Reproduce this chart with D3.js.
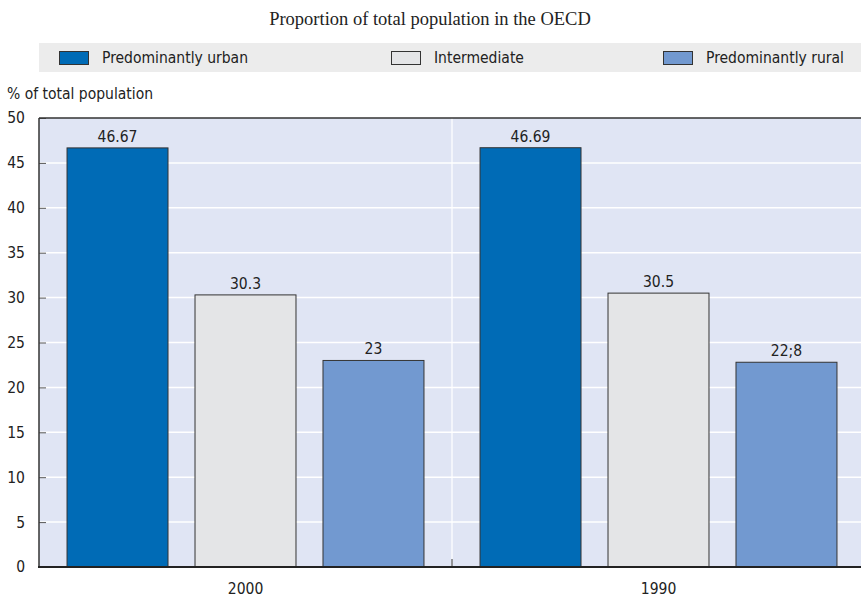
<!DOCTYPE html>
<html>
<head>
<meta charset="utf-8">
<script src="https://cdn.jsdelivr.net/npm/d3@7"></script>
<style>
  html, body { margin: 0; padding: 0; background: #ffffff; }
  svg { display: block; }
  .narrow { font-family: "Liberation Sans Narrow", "Arial Narrow", "DejaVu Sans Condensed", sans-serif; }
</style>
</head>
<body>
<svg id="chart" width="861" height="600"></svg>
<script>
// Share of OECD population by regional type
const years = ["2000", "1990"];
const seriesNames = ["Predominantly urban", "Intermediate", "Predominantly rural"];
const urban = [46.67, 46.69];
const intermediate = [30.3, 30.5];
const rural = [23, 22.8];
const valueLabels = [["46.67", "30.3", "23"], ["46.69", "30.5", "22;8"]];
const yTicks = [0, 5, 10, 15, 20, 25, 30, 35, 40, 45, 50];
const colors = ["#006bb6", "#e4e5e7", "#7299d0"];

const seriesValues = [urban, intermediate, rural];

const svg = d3.select("#chart");
const plotLeft = 39, plotRight = 865, plotTop = 118, plotBottom = 567;

const x0 = d3.scaleBand().domain(years).range([plotLeft, plotRight]).padding(0);
const x1 = d3.scaleBand().domain(seriesNames).range([0, x0.bandwidth()])
  .paddingInner(0.211).paddingOuter(0.219);
const y = d3.scaleLinear().domain([0, 50]).range([plotBottom, plotTop]);

// Title
svg.append("text")
  .attr("x", 430).attr("y", 25)
  .attr("text-anchor", "middle")
  .attr("font-family", "'Liberation Serif', 'DejaVu Serif', serif")
  .attr("font-size", 18.5)
  .attr("fill", "#222")
  .text("Proportion of total population in the OECD");

// Legend band
svg.append("rect").attr("x", 39).attr("y", 43).attr("width", 822).attr("height", 29)
  .attr("fill", "#ececec");
const legendPos = [59, 391, 663];
seriesNames.forEach((name, i) => {
  svg.append("rect").attr("x", legendPos[i] + 0.5).attr("y", 51.5)
    .attr("width", 29).attr("height", 13)
    .attr("fill", colors[i]).attr("stroke", "#333").attr("stroke-width", 1);
  svg.append("text").attr("class", "narrow")
    .attr("x", legendPos[i] + 43).attr("y", 63)
    .attr("font-size", 15.5).attr("fill", "#222").text(name);
});

// Axis caption
svg.append("text").attr("class", "narrow")
  .attr("x", 7).attr("y", 99).attr("font-size", 15.5).attr("fill", "#222")
  .text("% of total population");

// Plot background
svg.append("rect").attr("x", plotLeft).attr("y", plotTop)
  .attr("width", plotRight - plotLeft).attr("height", plotBottom - plotTop).attr("fill", "#e0e5f4");

// Horizontal grid
svg.append("g").selectAll("line").data(yTicks.filter(t => t > 0 && t < 50)).join("line")
  .attr("x1", plotLeft).attr("x2", plotRight)
  .attr("y1", d => y(d)).attr("y2", d => y(d))
  .attr("stroke", "#ffffff").attr("stroke-width", 1.5);

// Vertical separator between years
const sepX = x0("1990");
svg.append("line").attr("x1", sepX).attr("x2", sepX).attr("y1", plotTop).attr("y2", plotBottom)
  .attr("stroke", "#ffffff").attr("stroke-width", 1.2);
svg.append("line").attr("x1", sepX).attr("x2", sepX).attr("y1", plotBottom - 8).attr("y2", plotBottom)
  .attr("stroke", "#333").attr("stroke-width", 1);

// Y axis with inward ticks
const yAxis = d3.axisLeft(y).tickValues(yTicks).tickSize(-7).tickPadding(14);
const gy = svg.append("g").attr("transform", `translate(${plotLeft},0)`).call(yAxis);
gy.select(".domain").remove();
gy.selectAll(".tick line").attr("stroke", "#555").attr("stroke-width", 1);
gy.selectAll(".tick text").attr("class", "narrow").attr("font-size", 15.5).attr("fill", "#222");
gy.attr("font-family", null).attr("font-size", null);

// Bars
const groups = svg.append("g").selectAll("g").data(years).join("g")
  .attr("transform", d => `translate(${x0(d)},0)`);
groups.each(function(year, yi) {
  const g = d3.select(this);
  seriesNames.forEach((name, si) => {
    const v = seriesValues[si][yi];
    g.append("rect")
      .attr("x", x1(name)).attr("y", y(v))
      .attr("width", x1.bandwidth()).attr("height", y(0) - y(v))
      .attr("fill", colors[si]).attr("stroke", "#333").attr("stroke-width", 1);
    g.append("text").attr("class", "narrow")
      .attr("x", x1(name) + x1.bandwidth() / 2).attr("y", y(v) - 6)
      .attr("text-anchor", "middle").attr("font-size", 15.5).attr("fill", "#222")
      .text(valueLabels[yi][si]);
  });
});

// Frame: top, left and bottom axis lines
svg.append("line").attr("x1", plotLeft).attr("x2", plotRight).attr("y1", plotTop).attr("y2", plotTop)
  .attr("stroke", "#333").attr("stroke-width", 1.5);
svg.append("line").attr("x1", plotLeft).attr("x2", plotLeft).attr("y1", plotTop).attr("y2", plotBottom)
  .attr("stroke", "#333").attr("stroke-width", 1.5);
svg.append("line").attr("x1", plotLeft - 1).attr("x2", plotRight).attr("y1", plotBottom).attr("y2", plotBottom)
  .attr("stroke", "#222").attr("stroke-width", 2);

// Category labels
const xAxis = d3.axisBottom(x0).tickSize(0).tickPadding(16);
const gx = svg.append("g").attr("transform", `translate(0,${plotBottom})`).call(xAxis);
gx.select(".domain").remove();
gx.selectAll(".tick text").attr("class", "narrow").attr("font-size", 15.5).attr("fill", "#222");
gx.attr("font-family", null).attr("font-size", null);
</script>
</body>
</html>
